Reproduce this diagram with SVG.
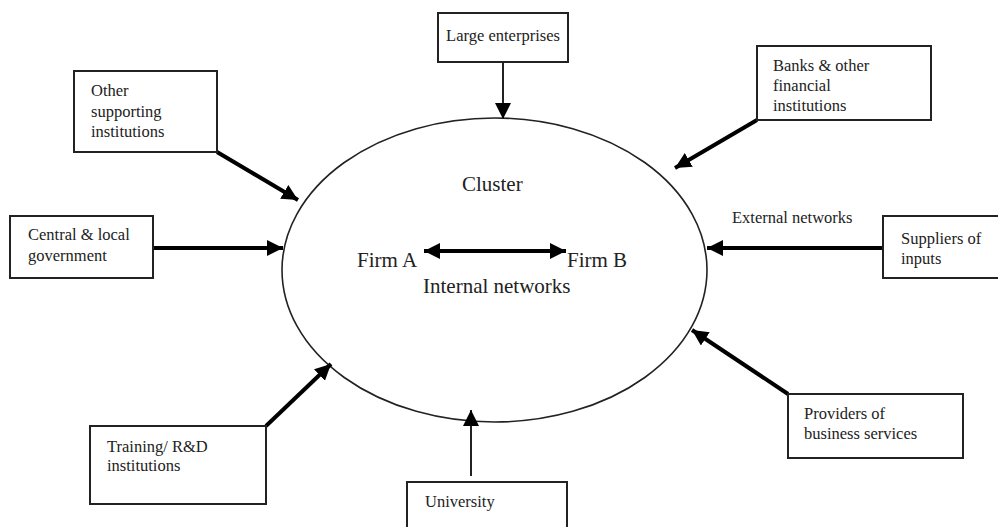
<svg xmlns="http://www.w3.org/2000/svg" width="998" height="527" viewBox="0 0 998 527">
<style>
.box{fill:#fff;stroke:#222;stroke-width:2}
.t{font-family:"Liberation Serif","Times New Roman",serif;font-size:16.5px;fill:#222}
.c{font-family:"Liberation Serif","Times New Roman",serif;font-size:21px;fill:#222}
.thick{stroke:#000;stroke-width:4;fill:none}
.thin{stroke:#222;stroke-width:2;fill:none}
</style>
<defs>
<marker id="ah" markerUnits="userSpaceOnUse" markerWidth="18" markerHeight="16" refX="16" refY="8" orient="auto">
<path d="M0,0 L16,8 L0,16 Z" fill="#000"/>
</marker>
<marker id="ah2" markerUnits="userSpaceOnUse" markerWidth="18" markerHeight="16" refX="16" refY="8" orient="auto-start-reverse">
<path d="M0,0 L16,8 L0,16 Z" fill="#000"/>
</marker>
</defs>
<rect width="998" height="527" fill="#fff"/>
<g id="cluster">
<ellipse cx="494.5" cy="270" rx="212.5" ry="152" fill="none" stroke="#222" stroke-width="1.6"/>
<text class="c" x="462" y="191">Cluster</text>
<text class="c" x="357" y="267">Firm A</text>
<text class="c" x="567" y="267">Firm B</text>
<text class="c" x="423" y="293">Internal networks</text>
</g>
<g id="connectors">
<line class="thick" x1="424" y1="251" x2="566" y2="251" marker-start="url(#ah2)" marker-end="url(#ah2)"/>
<line class="thin" x1="503" y1="62" x2="503" y2="119" marker-end="url(#ah)"/>
<line class="thick" x1="217" y1="152" x2="298" y2="200" marker-end="url(#ah)"/>
<line class="thick" x1="757" y1="120" x2="675" y2="168" marker-end="url(#ah)"/>
<line class="thick" x1="153" y1="248" x2="283" y2="248" marker-end="url(#ah)"/>
<line class="thick" x1="883" y1="248" x2="707" y2="248" marker-end="url(#ah)"/>
<line class="thick" x1="266" y1="426" x2="331" y2="364" marker-end="url(#ah)"/>
<line class="thin" x1="471" y1="476" x2="471" y2="410" marker-end="url(#ah)"/>
<line class="thick" x1="788" y1="394" x2="692" y2="330" marker-end="url(#ah)"/>
<text class="t" x="732" y="223">External networks</text>
</g>
<g id="large-enterprises">
<rect class="box" x="438" y="13" width="130" height="49"/>
<text class="t" x="503" y="41" text-anchor="middle">Large enterprises</text>
</g>
<g id="other-supporting">
<rect class="box" x="74" y="71" width="143" height="81"/>
<text class="t" x="91" y="96">Other</text>
<text class="t" x="91" y="117">supporting</text>
<text class="t" x="91" y="137">institutions</text>
</g>
<g id="banks">
<rect class="box" x="757" y="46" width="174" height="74"/>
<text class="t" x="773" y="71">Banks &amp; other</text>
<text class="t" x="773" y="91">financial</text>
<text class="t" x="773" y="111">institutions</text>
</g>
<g id="government">
<rect class="box" x="10" y="216" width="143" height="62"/>
<text class="t" x="28" y="240">Central &amp; local</text>
<text class="t" x="28" y="261">government</text>
</g>
<g id="suppliers">
<rect class="box" x="883" y="216" width="130" height="62"/>
<text class="t" x="901" y="244">Suppliers of</text>
<text class="t" x="901" y="264">inputs</text>
</g>
<g id="training">
<rect class="box" x="90" y="426" width="176" height="78"/>
<text class="t" x="107" y="452">Training/ R&amp;D</text>
<text class="t" x="107" y="471">institutions</text>
</g>
<g id="university">
<rect class="box" x="407" y="482" width="160" height="60"/>
<text class="t" x="425" y="507">University</text>
</g>
<g id="providers">
<rect class="box" x="788" y="394" width="175" height="64"/>
<text class="t" x="804" y="419">Providers of</text>
<text class="t" x="804" y="439">business services</text>
</g>
</svg>
